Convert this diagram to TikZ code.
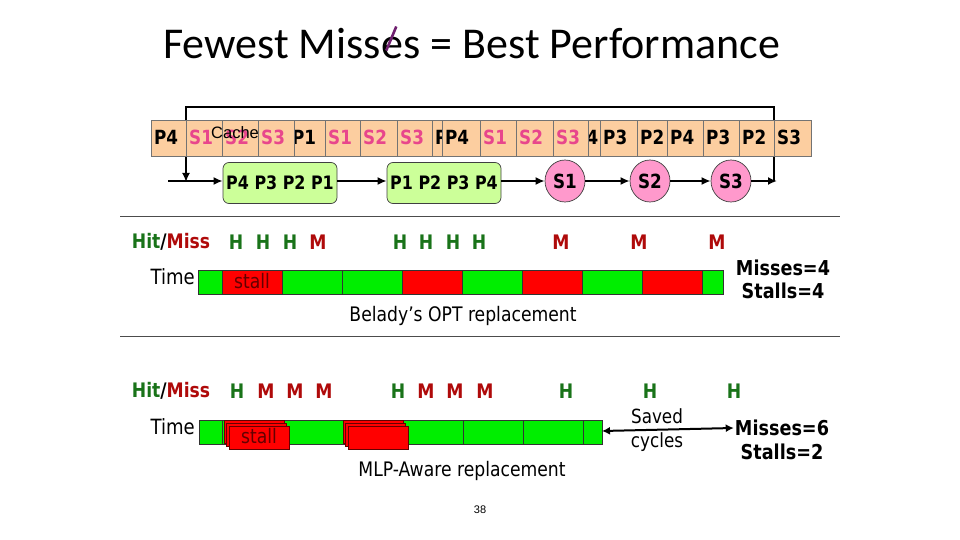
\documentclass[tikz,border=0pt]{standalone}
\usepackage{fontspec}
\setmainfont{DejaVu Sans}
\newfontfamily\titlefont{Carlito}
\newfontfamily\tahfont[FakeStretch=0.86]{DejaVu Sans}
\newfontfamily\arialfont{Liberation Sans}
\usepackage{xcolor}
\usetikzlibrary{positioning,arrows.meta,shapes.geometric,calc}

\definecolor{peach}{RGB}{252,206,160}
\definecolor{seqpink}{RGB}{232,70,140}
\definecolor{boxgreen}{RGB}{204,255,153}
\definecolor{circpink}{RGB}{255,153,204}
\definecolor{hitgreen}{RGB}{25,115,25}
\definecolor{missred}{RGB}{175,10,10}
\definecolor{bargreen}{RGB}{0,238,0}
\definecolor{barred}{RGB}{255,0,0}
\definecolor{stalltext}{RGB}{100,0,0}
\definecolor{slashpurple}{RGB}{112,32,112}

\begin{document}
\begin{tikzpicture}[
    x=1pt, y=-1pt,
    titletext/.style={font=\titlefont\fontsize{44}{48}\selectfont, inner sep=0pt, anchor=base west},
    seqcell/.style={draw=black!55, line width=0.6pt, fill=peach},
    seqtext/.style={anchor=west, inner sep=0pt, font=\tahfont\bfseries\fontsize{19.5}{20}\selectfont},
    flowbox/.style={draw=black!75, line width=0.7pt, fill=boxgreen, rounded corners=6pt, minimum width=114pt, minimum height=41pt, inner sep=1pt, font=\tahfont\bfseries\fontsize{18.5}{20}\selectfont},
    flowcirc/.style={ellipse, draw=black!75, line width=0.7pt, fill=circpink, minimum width=40pt, minimum height=42pt, inner sep=0pt, font=\tahfont\bfseries\fontsize{19.5}{20}\selectfont},
    flow/.style={line width=2.6pt, -{Latex[length=9pt,width=8pt]}},
    hm/.style={inner sep=0pt, font=\tahfont\bfseries\fontsize{20}{22}\selectfont},
    plain/.style={inner sep=1pt, font=\tahfont\fontsize{20}{24}\selectfont},
    count/.style={inner sep=1pt, font=\tahfont\bfseries\fontsize{20.5}{22}\selectfont},
    rule/.style={line width=0.8pt, black!70},
    barcell/.style={draw=black!80, line width=0.6pt},
    stallcell/.style={draw=stalltext, line width=0.7pt, fill=barred}
]
\useasboundingbox (0,0) rectangle (960,540);

% Title with struck-through e
\node[titletext] (ttlA) at (163,59) {Fewest Miss};
\node[titletext] (ttlE) at (ttlA.base east) {e};
\node[titletext] (ttlB) at (ttlE.base east) {s = Best Performance};
\draw[slashpurple, line width=2.6pt] ($(ttlE.center)+(-6,2)$) -- ($(ttlE.center)+(4,-22)$);

% Loop back from end of sequence
\coordinate (loopin) at (168,181);
\coordinate (loopout) at (777,181);
\coordinate (topR) at (774,107);
\coordinate (topL) at (186,107);
\coordinate (dropL) at (186,182);
\draw[flow] (774,181) -- (topR) -- (topL) -- (dropL);

% Access sequence (cells overlap, later ones on top)
\foreach \xa/\xb/\lbl/\col in {
    289/325/P1/black, 432/468/P4/black, 571/607/P4/black, 637/673/P2/black,
    151/186/P4/black, 186/222/S1/seqpink, 222/258/S2/seqpink, 258/294/S3/seqpink,
    325/360/S1/seqpink, 360/397/S2/seqpink, 397/432/S3/seqpink, 442/480/P4/black,
    480/516/S1/seqpink, 516/553/S2/seqpink, 553/588/S3/seqpink, 600/637/P3/black,
    667/703/P4/black, 703/739/P3/black, 739/774/P2/black, 774/811/S3/black}{
  \draw[seqcell] (\xa,120) rectangle (\xb,156);
  \node[seqtext, text=\col] at (\xa+3,137.5) {\lbl};
}
\node[anchor=west, inner sep=0pt, font=\arialfont\fontsize{16.5}{17}\selectfont] (cache) at (211,133) {Cache};

% Replacement flow
\node[flowbox] (evict1) at (280,183) {P4 P3 P2 P1};
\node[flowbox] (evict2) at (444,183) {P1 P2 P3 P4};
\node[flowcirc] (c1) at (565,181) {S1};
\node[flowcirc] (c2) at (650,181) {S2};
\node[flowcirc] (c3) at (731,181) {S3};
\draw[flow] (loopin) -- (evict1.west |- loopin);
\draw[flow] (evict1.east |- loopin) -- (evict2.west |- loopin);
\draw[flow] (evict2.east |- loopin) -- (c1);
\draw[flow] (c1) -- (c2);
\draw[flow] (c2) -- (c3);
\draw[flow] (c3) -- (loopout);

\draw[rule] (120,216) -- (840,216);

% Belady's OPT
\node[hm] (hm1) at (171,242) {{\color{hitgreen}Hit}/{\color{missred}Miss}};
\foreach \x/\r/\c in {236/H/hitgreen, 263/H/hitgreen, 290/H/hitgreen, 318/M/missred,
    400/H/hitgreen, 426/H/hitgreen, 453/H/hitgreen, 479/H/hitgreen,
    561/M/missred, 639/M/missred, 717/M/missred}
  \node[hm, text=\c] at (\x,242) {\r};
\node[plain, anchor=east, font=\tahfont\fontsize{21}{24}\selectfont] (time1) at (196,277) {Time};
\foreach \xa/\xb/\c in {198/222/bargreen, 222/282/barred, 282/342/bargreen, 342/402/bargreen,
    402/462/barred, 462/522/bargreen, 522/582/barred, 582/642/bargreen, 642/702/barred, 702/723/bargreen}
  \draw[barcell, fill=\c] (\xa,270) rectangle (\xb,294);
\node[plain, text=stalltext] (stall1) at (252,281) {stall};
\node[count] (miss1) at (783,268) {Misses=4};
\node[count] (stl1) at (783,291) {Stalls=4};
\node[plain] (opt) at (463,316) {Belady’s OPT replacement};

\draw[rule] (120,336) -- (840,336);

% MLP-aware
\node[hm] (hm2) at (171,391) {{\color{hitgreen}Hit}/{\color{missred}Miss}};
\foreach \x/\r/\c in {237/H/hitgreen, 266/M/missred, 295/M/missred, 324/M/missred,
    398/H/hitgreen, 426/M/missred, 455/M/missred, 485/M/missred,
    566/H/hitgreen, 650/H/hitgreen, 734/H/hitgreen}
  \node[hm, text=\c] at (\x,391) {\r};
\node[plain, anchor=east, font=\tahfont\fontsize{21}{24}\selectfont] (time2) at (196,427) {Time};
\foreach \xa/\xb in {199/222, 222/343, 343/463, 463/523, 523/583, 583/602}
  \draw[barcell, fill=bargreen] (\xa,420) rectangle (\xb,444);
\foreach \sx in {224,343}
  \foreach \d in {0,2.5,5}
    \draw[stallcell] (\sx+\d,420+1.2*\d) rectangle (\sx+60+\d,443+1.2*\d);
\node[plain, text=stalltext] (stall2) at (259,436) {stall};
\coordinate (bar2end) at (602,431);
\node[count] (miss2) at (782,428) {Misses=6};
\node[count] (stl2) at (782,452) {Stalls=2};
\draw[line width=2pt, {Latex[length=8pt,width=8pt]}-{Latex[length=8pt,width=8pt]}] (bar2end) -- (miss2.west);
\node[plain, align=center, font=\tahfont\fontsize{19.5}{24}\selectfont] (saved) at (657,430) {Saved\\cycles};
\node[plain] (mlp) at (462,471) {MLP-Aware replacement};

\node[inner sep=0pt, font=\arialfont\fontsize{11}{12}\selectfont] (pagenum) at (480,510) {38};
\end{tikzpicture}
\end{document}
